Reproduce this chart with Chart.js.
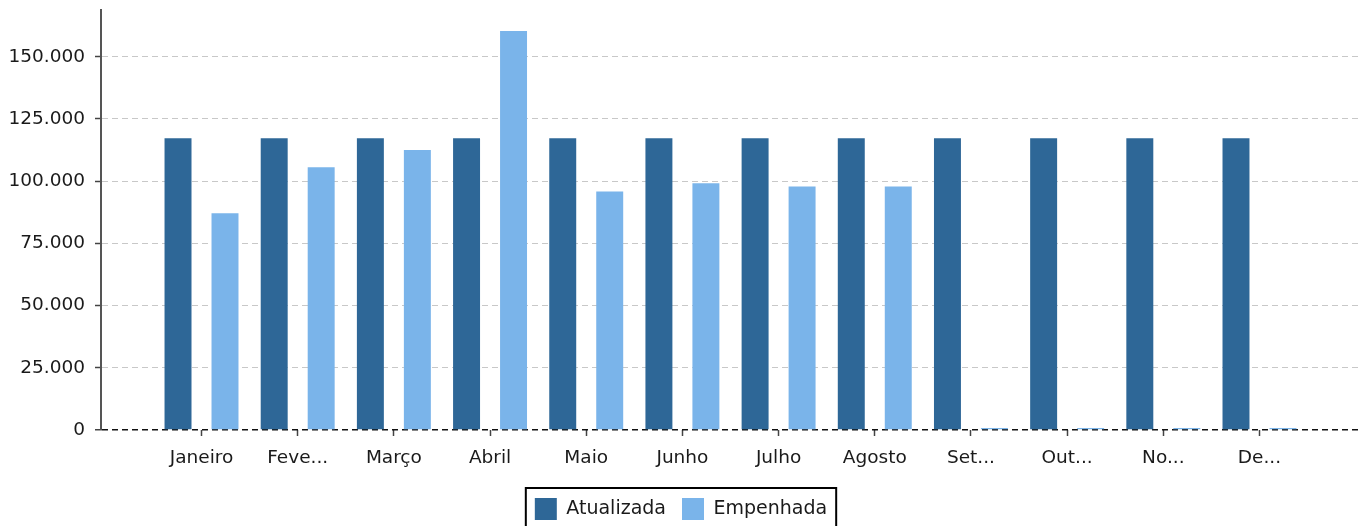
<!DOCTYPE html>
<html>
<head>
<meta charset="utf-8">
<script src="https://cdn.jsdelivr.net/npm/chart.js@4"></script>
<style>
  html, body { margin: 0; padding: 0; background: #fff; }
  #wrap { width: 1364px; height: 526px; }
</style>
</head>
<body>
<div id="wrap"><canvas id="chart"></canvas></div>
<script>
const months = ['Janeiro', 'Fevereiro', 'Março', 'Abril', 'Maio', 'Junho', 'Julho', 'Agosto', 'Setembro', 'Outubro', 'Novembro', 'Dezembro'];
const monthTicks = ['Janeiro', 'Feve...', 'Março', 'Abril', 'Maio', 'Junho', 'Julho', 'Agosto', 'Set...', 'Out...', 'No...', 'De...'];
const atualizada = [117300, 117300, 117300, 117300, 117300, 117300, 117300, 117300, 117300, 117300, 117300, 117300];
const empenhada = [87100, 105600, 112500, 160400, 95900, 99200, 97900, 97900, 0, 0, 0, 0];
const yTicks = [0, 25000, 50000, 75000, 100000, 125000, 150000];

const darkBlue = '#2e6797';
const lightBlue = '#7ab4ea';
const textColor = '#1a1a1a';
const fontFamily = '"DejaVu Sans", sans-serif';
const fontSize = 18.5;

function fmt(v) {
    return String(v).replace(/\B(?=(\d{3})+(?!\d))/g, '.');
}

function points(arr) {
    return arr.map((v, i) => ({ x: i, y: v }));
}

// black frame round the legend, legend nudged a bit to the left
const legendFrame = {
    id: 'legendFrame',
    afterUpdate(chart) {
        const lg = chart.legend;
        lg.left -= 4;
        lg.right -= 4;
        (lg.legendHitBoxes || []).forEach(b => { b.left -= 4; });
    },
    afterDraw(chart) {
        const boxes = chart.legend.legendHitBoxes;
        if (!boxes || !boxes.length) return;
        const first = boxes[0];
        const last = boxes[boxes.length - 1];
        const ctx = chart.ctx;
        const left = first.left - 9;
        const right = last.left + last.width + 9;
        const top = first.top - 10;
        ctx.save();
        ctx.strokeStyle = '#000';
        ctx.lineWidth = 2;
        ctx.strokeRect(left, top, right - left, 60);
        ctx.restore();
    }
};

const ctx = document.getElementById('chart').getContext('2d');
new Chart(ctx, {
    type: 'bar',
    data: {
        datasets: [
            { label: 'Atualizada', data: points(atualizada), backgroundColor: darkBlue, minBarLength: 2 },
            { label: 'Empenhada', data: points(empenhada), backgroundColor: lightBlue, minBarLength: 2 }
        ]
    },
    options: {
        responsive: true,
        maintainAspectRatio: false,
        animation: false,
        categoryPercentage: 0.977,
        barPercentage: 0.574,
        layout: {
            padding: { top: 0, left: 10, right: 4, bottom: -4 }
        },
        plugins: {
            tooltip: { enabled: false },
            legend: {
                position: 'bottom',
                labels: {
                    boxWidth: 22,
                    boxHeight: 22,
                    padding: 16,
                    color: textColor,
                    font: { family: fontFamily, size: 19 }
                }
            }
        },
        scales: {
            x: {
                type: 'linear',
                min: -1.045,
                max: 12.045,
                offset: false,
                afterBuildTicks: (scale) => {
                    scale.ticks = months.map((m, i) => ({ value: i }));
                },
                afterFit: (scale) => { scale.height = 52; },
                ticks: {
                    autoSkip: false,
                    maxRotation: 0,
                    padding: 11,
                    color: textColor,
                    font: { family: fontFamily, size: fontSize },
                    callback: (v) => monthTicks[v]
                },
                grid: {
                    offset: false,
                    drawOnChartArea: false,
                    drawTicks: true,
                    tickLength: 6,
                    tickColor: '#444',
                    tickWidth: 1.5
                },
                border: { display: false }
            },
            y: {
                min: 0,
                max: 168800,
                afterBuildTicks: (scale) => {
                    scale.ticks = yTicks.map(v => ({ value: v }));
                },
                afterFit: (scale) => {
                    scale.width = 91;
                    scale.paddingTop = 10;
                },
                ticks: {
                    padding: 10,
                    color: textColor,
                    font: { family: fontFamily, size: fontSize },
                    callback: (v) => fmt(v)
                },
                grid: {
                    color: (c) => c.tick && c.tick.value === 0 ? '#111' : '#c8c8c8',
                    lineWidth: (c) => c.tick && c.tick.value === 0 ? 1.5 : 1,
                    drawTicks: true,
                    tickLength: 6,
                    tickColor: '#444',
                    tickWidth: 1.5,
                    tickBorderDash: []
                },
                border: { color: '#555', width: 2, dash: [6, 4] }
            }
        }
    },
    plugins: [legendFrame]
});
</script>
</body>
</html>
